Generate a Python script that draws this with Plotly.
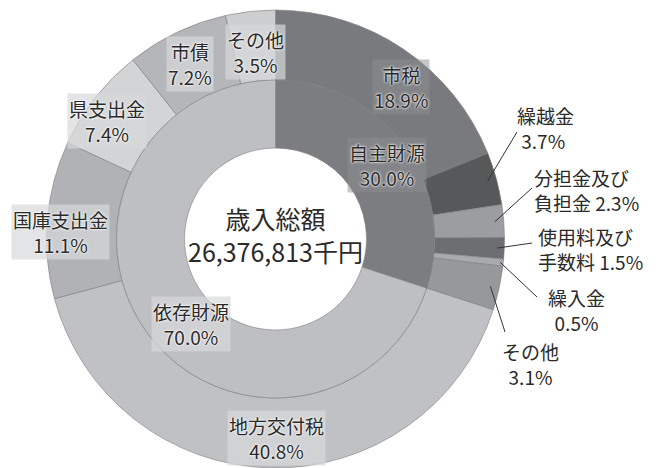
import math
import plotly.graph_objects as go

# ---- data ----
inner_cats = ["自主財源", "依存財源"]
inner_vals = [30.0, 70.0]
outer_cats = ["市税", "繰越金", "分担金及び負担金", "使用料及び手数料", "繰入金", "その他",
              "地方交付税", "国庫支出金", "県支出金", "市債", "その他"]
outer_groups = ["自主財源"] * 6 + ["依存財源"] * 5
outer_vals = [18.9, 3.7, 2.3, 1.5, 0.5, 3.1, 40.8, 11.1, 7.4, 7.2, 3.5]
total_title = "歳入総額"
total_value = "26,376,813千円"

# ---- styles ----
OFF = 8  # page body margin
W, H = 664 - OFF, 468 - OFF
CX, CY = 275.5, 239.0          # in page pixels
R_OUT, R_MID, R_HOLE = 229.0, 159.0, 91.0
FONT = "Noto Sans CJK JP"
LSIZE = 19

outer_colors = ["#797a7e", "#575859", "#9c9da0", "#6d6e72", "#a9aaad", "#97989c",
                "#c0c1c4", "#b1b2b5", "#d3d4d6", "#b5b6b9", "#cdced0"]
inner_colors = ["#7c7d81", "#bebfc2"]


def px2paper(x, y):
    return (x - OFF) / W, 1 - (y - OFF) / H


def dom(r):
    x0, y0 = px2paper(CX - r, CY + r)
    x1, y1 = px2paper(CX + r, CY - r)
    return dict(x=[max(0, x0), min(1, x1)], y=[max(0, y0), min(1, y1)])


fig = go.Figure()
fig.add_trace(go.Pie(
    labels=[f"{g}:{c}" for g, c in zip(outer_groups, outer_cats)],
    values=outer_vals, sort=False, direction="clockwise", rotation=0,
    hole=R_MID / R_OUT, domain=dom(R_OUT), textinfo="none", showlegend=False,
    marker=dict(colors=outer_colors, line=dict(color="#7d7d7d", width=0.6)),
    hoverinfo="label+value",
))
fig.add_trace(go.Pie(
    labels=inner_cats, values=inner_vals, sort=False, direction="clockwise", rotation=0,
    hole=R_HOLE / R_MID, domain=dom(R_MID), textinfo="none", showlegend=False,
    marker=dict(colors=inner_colors, line=dict(color="#7d7d7d", width=0.6)),
    hoverinfo="label+value",
))

halo = "0px 0px 2px white, 0px 0px 3px white"


def fmt(v):
    return f"{v:.1f}%"


def ann(text, x, y, xanchor="center", align="center", size=LSIZE, bg=None, shadow=None):
    px, py = px2paper(x, y)
    d = dict(text=text, x=px, y=py, xref="paper", yref="paper", showarrow=False,
             xanchor=xanchor, yanchor="middle", align=align,
             font=dict(family=FONT, size=size, color="#2a2a2a"), borderpad=1)
    if bg:
        d["bgcolor"] = bg
    if shadow:
        d["font"]["shadow"] = shadow
    fig.add_annotation(**d)


# inside labels (boxed)
box_dark = "rgba(140,141,145,0.5)"
box_light = "rgba(215,216,218,0.7)"
ann(f"{outer_cats[0]}<br>{fmt(outer_vals[0])}", 401, 87, bg=box_dark, shadow=halo)
ann(f"{inner_cats[0]}<br>{fmt(inner_vals[0])}", 387, 165, bg=box_dark, shadow=halo)
ann(f"{inner_cats[1]}<br>{fmt(inner_vals[1])}", 191, 324, bg=box_light, shadow=halo)
ann(f"{outer_cats[6]}<br>{fmt(outer_vals[6])}", 276, 438, bg=box_light, shadow=halo)
ann(f"{outer_cats[7]}<br>{fmt(outer_vals[7])}", 60, 232, bg=box_light, shadow=halo)
ann(f"{outer_cats[8]}<br>{fmt(outer_vals[8])}", 107, 121, bg=box_light, shadow=halo)
ann(f"{outer_cats[9]}<br>{fmt(outer_vals[9])}", 190, 64, bg=box_light, shadow=halo)
ann(f"{outer_cats[10]}<br>{fmt(outer_vals[10])}", 255, 52, bg=box_light, shadow=halo)

# outside labels with leader lines
ann(f"{outer_cats[1]}<br> {fmt(outer_vals[1])}", 515, 128, xanchor="left", align="left")
ann(f"分担金及び<br>負担金 {fmt(outer_vals[2])}", 532, 190, xanchor="left", align="left")
ann(f"使用料及び<br>手数料 {fmt(outer_vals[3])}", 536, 249, xanchor="left", align="left")
ann(f"{outer_cats[4]}<br>{fmt(outer_vals[4])}", 576, 310)
ann(f"{outer_cats[5]}<br>{fmt(outer_vals[5])}", 530, 364)

# center text
ann(f"{total_title}<br>{total_value}", CX, 234, size=25)

# leader lines: anchor at the slice middle angle (from data) -> label
total = sum(outer_vals)
cum = 0
mids = []
for v in outer_vals:
    mids.append((cum + v / 2) / total * 2 * math.pi)
    cum += v
leader_ends = {1: (517, 132), 2: (532, 188), 3: (532, 243), 4: (537, 297), 5: (505, 332)}
leader_r = {1: 220, 2: 220, 3: 222, 4: 226, 5: 220}
for i, (ex, ey) in leader_ends.items():
    a = mids[i]
    ax = CX + leader_r[i] * math.sin(a)
    ay = CY - leader_r[i] * math.cos(a)
    x0, y0 = px2paper(ax, ay)
    x1, y1 = px2paper(ex, ey)
    fig.add_shape(type="line", xref="paper", yref="paper", x0=x0, y0=y0, x1=x1, y1=y1,
                  line=dict(color="#333333", width=1))

fig.update_layout(width=W, height=H, margin=dict(l=0, r=0, t=0, b=0),
                  paper_bgcolor="white", plot_bgcolor="white", showlegend=False)
fig.write_html("out.html")
